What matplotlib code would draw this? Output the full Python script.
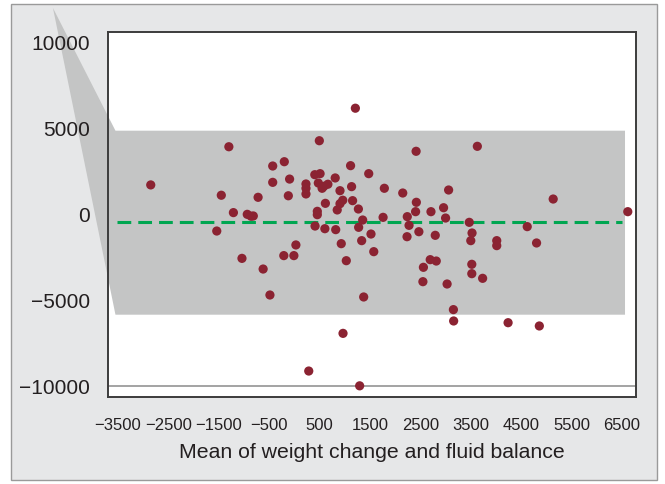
import matplotlib
matplotlib.use("Agg")
import matplotlib.pyplot as plt
from matplotlib.patches import Rectangle, Polygon
from matplotlib import font_manager

# ---- data ----
mean_x = [-2850, -1300, -1450, -1210, -1540, -935, -860, -815, -720, -430,
          -200, -430, -95, -120, -1040, -620, -485, -210, -10, 30,
          1210, 495, 2415, 405, 510, 1115, 1475, 230, 230, 230,
          475, 550, 585, 665, 810, 905, 1135, 1785, 2150, 3060,
          615, 960, 905, 850, 1155, 1270, 455, 455, 2420, 2405,
          2710, 2960, 1355, 1760, 2240, 3000, 410, 605, 820, 1275,
          2275, 1335, 1520, 1575, 2235, 2470, 2795, 930, 1030, 2695,
          2815, 2560, 2550, 3030, 1375, 3155, 3160, 965, 285, 1295,
          3630, 5135, 6615, 3470, 3525, 3500, 4015, 4015, 4620, 4805,
          3520, 3520, 3735, 4240, 4860]
diff_y = [1690, 3910, 1090, 80, -990, -20, -130, -115, 970, 2790,
          3040, 1840, 2030, 1060, -2580, -3200, -4710, -2420, -2420, -1800,
          6150, 4260, 3645, 2285, 2345, 2810, 2345, 1745, 1495, 1165,
          1800, 1495, 1610, 1730, 2095, 1355, 1590, 1495, 1220, 1395,
          620, 800, 600, 235, 775, 290, 155, -40, 680, 135,
          135, 365, -350, -195, -155, -235, -700, -855, -910, -775,
          -660, -1550, -1165, -2190, -1320, -1030, -1240, -1725, -2715, -2655,
          -2735, -3100, -3935, -4070, -4825, -5560, -6220, -6940, -9130, -9990,
          3935, 870, 135, -485, -1105, -1550, -1550, -1840, -735, -1685,
          -2925, -3470, -3740, -6320, -6510]

mean_diff = -470
upper_loa = 4843
lower_loa = -5855
band_x = [-3550, 6560]
line_x = [-3520, 6500]
glitch_pt = (-4790, 11977)

x_ticks = [-3500, -2500, -1500, -500, 500, 1500, 2500, 3500, 4500, 5500, 6500]
y_ticks = [-10000, -5000, 0, 5000, 10000]
x_label = "Mean of weight change and fluid balance"

# ---- fonts ----
names = {f.name for f in font_manager.fontManager.ttflist}
main_font = "Liberation Sans" if "Liberation Sans" in names else "DejaVu Sans"
plt.rcParams['font.family'] = [main_font, 'DejaVu Sans']

txt_color = "#231f20"
fig = plt.figure(figsize=(6.65, 4.85), dpi=100)
fig.patch.set_facecolor("white")
bg = Rectangle((11 / 665, 1 - 481 / 485), (657 - 11) / 665, (481 - 5) / 485,
               transform=fig.transFigure, facecolor="#e6e7e8",
               edgecolor="#9a9a9a", linewidth=1.0, zorder=-10)
fig.add_artist(bg)

ax = fig.add_axes([108 / 665, 1 - 398 / 485, (636 - 108) / 665, (398 - 33) / 485])
ax.set_facecolor("white")

poly = Polygon([glitch_pt, (band_x[0], upper_loa), (band_x[1], upper_loa),
                (band_x[1], lower_loa), (band_x[0], lower_loa)],
               closed=True, facecolor="#c4c5c5", edgecolor="none",
               clip_on=False, zorder=0.5)
ax.add_patch(poly)

ax.axhline(-10000, color="#a3a3a3", linewidth=1.4, zorder=1)
ax.plot(line_x, [mean_diff, mean_diff], color="#00a651", linewidth=2.2,
        dashes=(4.5, 2.3), zorder=2)
ax.scatter(mean_x, diff_y, s=44, color="#8b2332", edgecolors="none", zorder=3)

ax.set_xlim(-3698, 6778)
ax.set_ylim(-10640, 10581)
ax.set_xticks(x_ticks)
ax.set_yticks(y_ticks)
ax.set_xticklabels([f"{v}".replace("-", "\u2212") for v in x_ticks],
                   fontsize=12, color=txt_color)
ax.set_yticklabels([f"{v}".replace("-", "\u2212") for v in y_ticks],
                   fontsize=15, color=txt_color)
ax.tick_params(axis='both', length=0)
ax.tick_params(axis='x', pad=14.5)
ax.tick_params(axis='y', pad=13)
ax.set_xlabel(x_label, fontsize=15.3, color=txt_color, labelpad=7)

for s in ax.spines.values():
    s.set_color("#3c3c3c")
    s.set_linewidth(1.4)
    s.set_zorder(5)

fig.savefig("out.png", dpi=100)
